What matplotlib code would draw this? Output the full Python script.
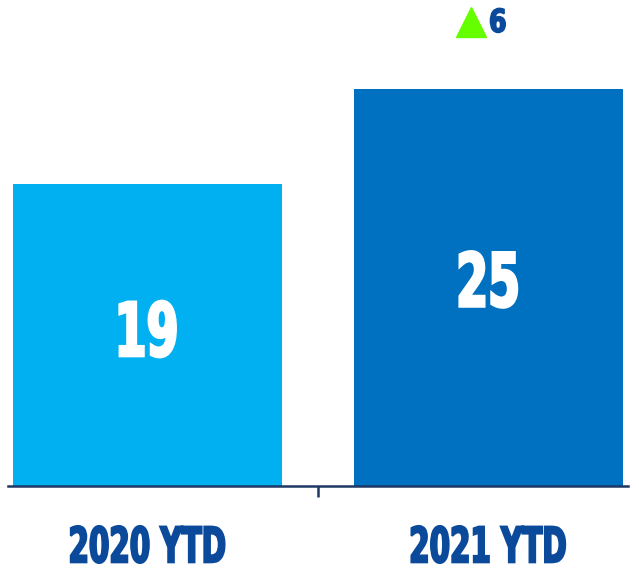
import matplotlib
matplotlib.use("Agg")
import matplotlib.pyplot as plt
from matplotlib.textpath import TextPath
from matplotlib.patches import PathPatch
from matplotlib.font_manager import FontProperties
from matplotlib.transforms import Affine2D

# datos
categorias = ["2020 YTD", "2021 YTD"]
valores = [19, 25]
colores = ["#00B0F0", "#0070C0"]

azul_oscuro = "#0B4A9A"
verde = "#66FF00"
fp = FontProperties(family="DejaVu Sans", weight="bold")

fig = plt.figure(figsize=(6.39, 5.78), dpi=100)
ax = fig.add_axes([8 / 639, 1 - 486 / 578, 620 / 639, 486 / 578])
ax.set_xlim(-0.41, 1.41)
ax.set_ylim(0, 486 / 15.89)


# texto condensado (no hay fuente estrecha instalada): se dibuja como path
def texto_estrecho(x, y, s, alto_px, estrechez, color, grosor=1.5):
    tp = TextPath((0, 0), s, size=100, prop=fp)
    bb = tp.get_extents()
    k = alto_px / bb.height
    cx, cy = ax.transData.transform((x, y))
    tr = (Affine2D().translate(-(bb.x0 + bb.x1) / 2, -(bb.y0 + bb.y1) / 2)
          .scale(k * estrechez, k).translate(cx, cy))
    ax.add_patch(PathPatch(tr.transform_path(tp), facecolor=color,
                           edgecolor=color, linewidth=grosor, transform=None,
                           clip_on=False))


x = range(len(categorias))
ax.bar(x, valores, width=0.79, color=colores)

# valores dentro de las barras
for xi, v in zip(x, valores):
    texto_estrecho(xi, v * 0.52, str(v), 56, 0.62, "white", 2.0)

# diferencia sobre la segunda barra
delta = valores[1] - valores[0]
ax.plot(0.948, 29.2, marker="^", markersize=22, color=verde, clip_on=False)
texto_estrecho(1.028, 29.3, str(delta), 24, 0.8, azul_oscuro, 1.2)

# etiquetas de categoria
for xi, c in zip(x, categorias):
    texto_estrecho(xi, -3.68, c, 37, 0.6, azul_oscuro, 1.5)

for s in ["top", "right", "left"]:
    ax.spines[s].set_visible(False)
ax.spines["bottom"].set_color("#1F3864")
ax.spines["bottom"].set_linewidth(1.8)
ax.set_yticks([])
ax.set_xticks([0.5])
ax.set_xticklabels([])
ax.tick_params(axis="x", length=8, width=1.8, color="#1F3864")

fig.savefig("out.png", dpi=100)
